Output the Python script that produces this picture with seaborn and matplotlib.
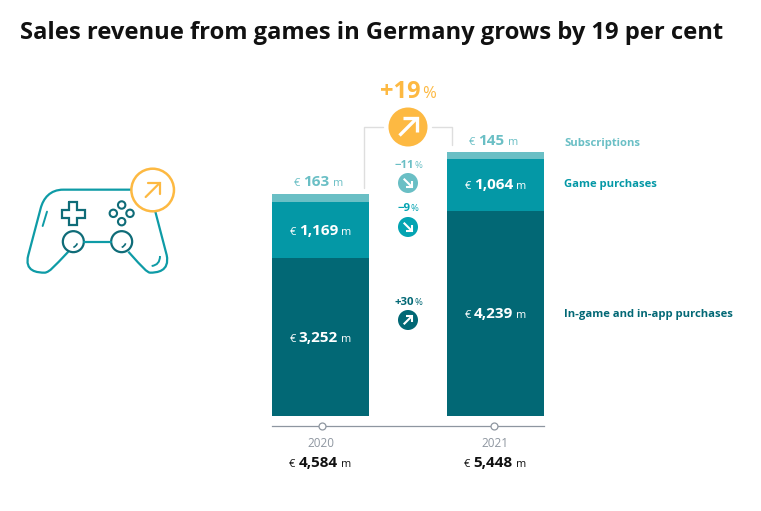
import numpy as np
import pandas as pd
import matplotlib
matplotlib.use("Agg")
import matplotlib.pyplot as plt
from matplotlib.path import Path
from matplotlib.patches import PathPatch, Circle, Rectangle
import seaborn as sns

years = ["2020", "2021"]
in_game = [3252, 4239]
game_purchases = [1169, 1064]
subscriptions = [163, 145]
totals = ["4,584", "5,448"]
series_names = ["In-game and in-app purchases", "Game purchases", "Subscriptions"]
changes = ["+30", "\u22129", "\u221211"]
overall_change = "+19"
title = "Sales revenue from games in Germany grows by 19 per cent"

DARK, MID, LIGHT, GOLD = "#026875", "#0498A6", "#6ABFC5", "#FDB942"
BADGE_MID = "#04A4B2"
FONT = "Open Sans"
W, H = 761, 511

sns.set_theme(style="white")
plt.rcParams["font.family"] = [FONT, "DejaVu Sans"]
fig = plt.figure(figsize=(W / 100, H / 100), dpi=100, facecolor="white")

# overlay in pixel coordinates for decoration
ov = fig.add_axes([0, 0, 1, 1], zorder=3)
ov.set_xlim(0, W); ov.set_ylim(H, 0); ov.axis("off"); ov.patch.set_alpha(0)

# bar axes: spans 272..544 px horizontally, 426..152 px vertically
ax = fig.add_axes([272 / W, 1 - 426 / H, 272 / W, (426 - 152) / H], zorder=1)
px_per_unit = 264 / 5448
df = pd.DataFrame({"year": years, "a": in_game, "b": game_purchases, "c": subscriptions})
df["ab"] = df.a + df.b
df["abc"] = df.ab + df.c
for col, colr in [("abc", LIGHT), ("ab", MID), ("a", DARK)]:
    sns.barplot(data=df, x="year", y=col, color=colr, saturation=1, width=97 / 175, ax=ax,
                linewidth=0, edgecolor="none")
ax.set_xlim(-48.5 / 175, 1 + 48.5 / 175)
ax.set_ylim(-10 / px_per_unit, 264 / px_per_unit)
ax.set_xlabel(""); ax.set_ylabel(""); ax.set_yticks([])
ax.patch.set_alpha(0)
sns.despine(ax=ax, left=True)
ax.spines["bottom"].set_color("#8E96A0"); ax.spines["bottom"].set_linewidth(0.9)
ax.tick_params(axis="x", length=0, pad=8, labelsize=8.5, labelcolor="#8E96A0")
ax.plot([0.01, 0.99], [-10 / px_per_unit] * 2, ls="", marker="o", ms=5, mfc="white",
        mec="#8E96A0", mew=0.9, clip_on=False, zorder=5)

fig.canvas.draw()
rend = fig.canvas.get_renderer()


def rich(xc, yc, pieces, gap=3):
    """Centered text on one baseline; pieces = (str, pt size, weight, colour)."""
    arts = []
    big = max(p[1] for p in pieces)
    base = yc + big * 1.39 * 0.30
    for s, sz, wt, c in pieces:
        arts.append(ov.text(0, base, s, fontsize=sz, fontweight=wt, color=c, ha="left", va="baseline"))
    ws = [a.get_window_extent(rend).width for a in arts]
    x = xc - (sum(ws) + gap * (len(ws) - 1)) / 2
    for a, w in zip(arts, ws):
        a.set_x(x)
        x += w + gap


def to_px(x, y):
    d = ax.transData.transform((x, y))
    return d[0], H - d[1]


def money(xc, yc, val, c, size=11.0):
    rich(xc, yc, [("\u20ac", size * 0.72, "normal", c), (val, size, "bold", c), ("m", size * 0.72, "normal", c)])


for i in range(2):
    x0, y0 = to_px(i, in_game[i] / 2)
    money(x0, y0, f"{in_game[i]:,}", "white")
    x1, y1 = to_px(i, in_game[i] + game_purchases[i] / 2)
    money(x1, y1, f"{game_purchases[i]:,}", "white")
    x2, y2 = to_px(i, in_game[i] + game_purchases[i] + subscriptions[i])
    money(x2 - 2, y2 - 12, f"{subscriptions[i]:,}", LIGHT)
    money(x2 - 0.5, 462, totals[i], "#111111")

# series names
for name, yy, c in zip(series_names, [314, 185, 143.5], [DARK, MID, LIGHT]):
    ov.text(564, yy, name, fontsize=8.1, fontweight="bold", color=c, ha="left", va="center")

ov.text(20, 33, title, fontsize=17.15, fontweight="bold", color="#111111", ha="left", va="center")


def poly(pts, c, lw=1.5, **k):
    xs, ys = zip(*pts)
    ov.plot(xs, ys, color=c, lw=lw, solid_capstyle=k.get("cap", "round"), solid_joinstyle="miter" if k.get("miter") else "round")


def arrow(cx, cy, s, up, c, lw):
    sgn = -1 if up else 1
    tipx, tipy = cx + s, cy + sgn * s
    poly([(cx - s, cy - sgn * s), (tipx, tipy)], c, lw, cap="butt")
    poly([(tipx - 1.55 * s, tipy), (tipx, tipy), (tipx, tipy - sgn * 1.55 * s)], c, lw, cap="butt", miter=True)


# connectors
poly([(383, 127), (364, 127), (364, 188)], "#DEDEDE", 1.0)
poly([(432, 127), (452, 127), (452, 145)], "#DEDEDE", 1.0)

# central growth badge
rich(408, 91, [(overall_change, 17, "bold", GOLD), ("%", 12, "normal", GOLD)], gap=1)
ov.add_patch(Circle((408, 127), 19.5, fc=GOLD, ec="none"))
arrow(408, 127, 8.5, True, "white", 2.4)

# change badges
for txt, yy, c, up, lab in zip(changes, [320, 227, 183], [DARK, BADGE_MID, LIGHT], [True, False, False], [302, 208, 165]):
    ov.add_patch(Circle((408, yy), 10, fc=c, ec="none"))
    arrow(408, yy, 4.3, up, "white", 1.5)
    rich(408, lab, [(txt, 8.2, "bold", c), ("%", 6.8, "normal", c)], gap=0.5)

# game controller icon
C = "#0E9BA6"
D = "#0F6C78"
Z = lambda x, y: (x / 3, 150 + y / 3)
v = [Z(395, 119), Z(190, 119), Z(150, 119), Z(130, 145), Z(122, 175), Z(85, 315), Z(72, 365), Z(112, 368), Z(135, 368),
     Z(150, 365), Z(160, 352), Z(205, 305)]
codes = [Path.MOVETO, Path.LINETO, Path.CURVE4, Path.CURVE4, Path.CURVE4, Path.LINETO, Path.CURVE4, Path.CURVE4,
         Path.CURVE4, Path.CURVE4, Path.CURVE4, Path.LINETO]
ov.add_patch(PathPatch(Path(v, codes), fc="none", ec=C, lw=1.6))
v = [Z(466, 185), Z(500, 315), Z(510, 365), Z(470, 368), Z(450, 368), Z(440, 366), Z(430, 355), Z(385, 305)]
codes = [Path.MOVETO, Path.LINETO, Path.CURVE4, Path.CURVE4, Path.CURVE4, Path.CURVE4, Path.CURVE4, Path.LINETO]
ov.add_patch(PathPatch(Path(v, codes), fc="none", ec=C, lw=1.6))
poly([Z(141, 185), Z(128, 228)], C, 1.4)
ov.add_patch(PathPatch(Path([Z(480, 318), Z(480, 345), Z(455, 348)], [Path.MOVETO, Path.CURVE3, Path.CURVE3]),
                       fc="none", ec=C, lw=1.4))
poly([Z(252, 275), Z(332, 275)], C, 1.6)
for cx in (220, 365):
    ov.add_patch(Circle(Z(cx, 275), 10.5, fc="white", ec=D, lw=1.6))
    ov.add_patch(PathPatch(Path([Z(cx + 12, 280), Z(cx + 8, 290), Z(cx, 292)], [Path.MOVETO, Path.CURVE3, Path.CURVE3]),
                           fc="none", ec=D, lw=1.2))
cross = [(-12, -34), (12, -34), (12, -12), (34, -12), (34, 12), (12, 12), (12, 34), (-12, 34), (-12, 12), (-34, 12),
         (-34, -12), (-12, -12), (-12, -34)]
poly([Z(220 + a, 191 + b) for a, b in cross], D, 1.6, miter=True)
for cx, cy in [(365, 165), (340, 190), (390, 190), (365, 215)]:
    ov.add_patch(Circle(Z(cx, cy), 3.7, fc="none", ec=D, lw=1.5))
ov.add_patch(Circle(Z(458, 120), 21.3, fc="white", ec=GOLD, lw=1.8, zorder=4))
s = 7
cx, cy = Z(458, 120)
ov.plot([cx - s, cx + s], [cy + s, cy - s], color=GOLD, lw=1.6, zorder=5)
ov.plot([cx - s * 0.6, cx + s, cx + s], [cy - s, cy - s, cy + s * 0.6], color=GOLD, lw=1.6, zorder=5,
        solid_joinstyle="miter")

ov.set_xlim(0, W); ov.set_ylim(H, 0)
fig.savefig("out.png", dpi=100, facecolor="white")
